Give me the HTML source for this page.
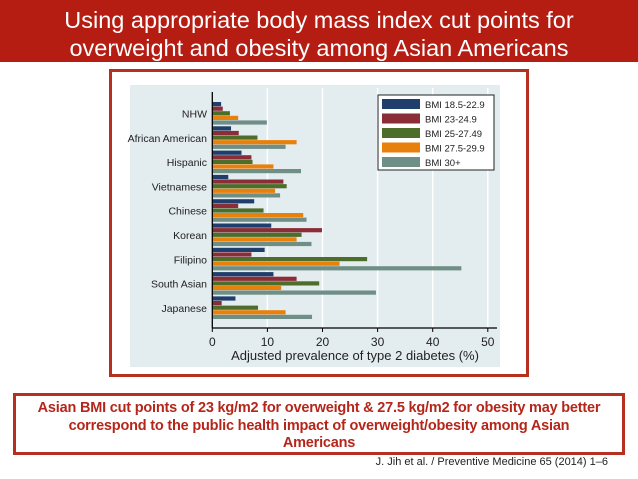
<!DOCTYPE html>
<html><head><meta charset="utf-8"><style>
body{margin:0;width:638px;height:479px;background:#fff;position:relative;overflow:hidden;font-family:"Liberation Sans",sans-serif}
#title{position:absolute;left:0;top:0;width:638px;height:62px;background:#b51c12;color:#fff;font-size:23.5px;text-align:center;line-height:28px;padding-top:6px;box-sizing:border-box;white-space:nowrap}
#frame{position:absolute;left:109px;top:69px;width:420px;height:308px;border:3px solid #b5301f;box-sizing:border-box}
#note{position:absolute;left:13px;top:393px;width:612px;height:62px;border:3px solid #b5301f;box-sizing:border-box;color:#b5261a;font-weight:bold;font-size:14.5px;text-align:center;line-height:17.5px;padding-top:4px;white-space:nowrap;letter-spacing:-0.2px}
#cite{position:absolute;right:30px;top:456px;font-size:11px;color:#222}
</style></head><body>
<div id="title">Using appropriate body mass index cut points for<br>overweight and obesity among Asian Americans</div>
<div id="frame"></div>
<svg id="chart" width="638" height="479" style="position:absolute;left:0;top:0" font-family="Liberation Sans, sans-serif"></svg>
<div id="note">Asian BMI cut points of 23 kg/m2 for overweight &amp; 27.5 kg/m2 for obesity may better<br>correspond to the public health impact of overweight/obesity among Asian<br>Americans</div>
<div id="cite">J. Jih et al. / Preventive Medicine 65 (2014) 1–6</div>
<script>
const categories=["NHW","African American","Hispanic","Vietnamese","Chinese","Korean","Filipino","South Asian","Japanese"];
const seriesNames=["BMI 18.5-22.9","BMI 23-24.9","BMI 25-27.49","BMI 27.5-29.9","BMI 30+"];
const bmi18=[1.6,3.4,5.3,2.9,7.6,10.7,9.5,11.1,4.2];
const bmi23=[1.9,4.8,7.1,12.9,4.7,19.9,7.1,15.3,1.7];
const bmi25=[3.2,8.2,7.3,13.5,9.3,16.2,28.1,19.4,8.3];
const bmi275=[4.7,15.3,11.1,11.4,16.5,15.3,23.1,12.5,13.3];
const bmi30=[9.9,13.3,16.1,12.3,17.1,18.0,45.2,29.7,18.1];
const ticks=[0,10,20,30,40,50];
const series=[bmi18,bmi23,bmi25,bmi275,bmi30];
const colors=["#1f3e6c","#8a2d36","#4d6e2b","#e8800c","#6f8f86"];
const svg=document.getElementById('chart');
const NS="http://www.w3.org/2000/svg";
function mk(t,a,p){const e=document.createElementNS(NS,t);for(const k in a)e.setAttribute(k,a[k]);(p||svg).appendChild(e);return e;}
const x0=212.3,pxPer=5.51;
const xs=v=>x0+v*pxPer;
const gTop=102,gStep=24.3,bh=4.6;
const bg=mk('rect',{x:130,y:85,width:370,height:282,fill:'#e3ecef'});


ticks.forEach(t=>{
  if(t>0){const g=mk('line',{x1:xs(t),x2:xs(t),y1:88,y2:328,stroke:'#fff','stroke-width':1.5});
  
  }
  const tl=mk('text',{x:xs(t),y:346,'text-anchor':'middle','font-size':12,fill:'#222'});tl.textContent=t;
  
  
  const tk=mk('line',{x1:xs(t),x2:xs(t),y1:328,y2:332,stroke:'#000'});
  
  
});
categories.forEach((c,i)=>{
  const top=gTop+i*gStep;
  series.forEach((s,j)=>{
    const r=mk('rect',{x:x0,y:top+j*bh,width:s[i]*pxPer,height:bh-0.4,fill:colors[j]});
    
    
  });
  const l=mk('text',{x:207,y:top+bh*2.5+4,'text-anchor':'end','font-size':10.5,fill:'#222'});l.textContent=c;
  
  
});
const ya=mk('line',{x1:x0,x2:x0,y1:92,y2:328,stroke:'#000','stroke-width':1.3});


const xa=mk('line',{x1:x0,x2:497,y1:328,y2:328,stroke:'#000','stroke-width':1.3});


const xt=mk('text',{x:355,y:360,'text-anchor':'middle','font-size':13,fill:'#222'});xt.textContent='Adjusted prevalence of type 2 diabetes (%)';


const lg=mk('rect',{x:378,y:95,width:116,height:75,fill:'#fff',stroke:'#222','stroke-width':1});


seriesNames.forEach((n,j)=>{
  const y=99+j*14.5;
  const sw=mk('rect',{x:382,y:y,width:38,height:10,fill:colors[j]});
  
  
  const t=mk('text',{x:425,y:y+9,'font-size':9.5,fill:'#222'});t.textContent=n;
  
  
});
</script>
</body></html>
